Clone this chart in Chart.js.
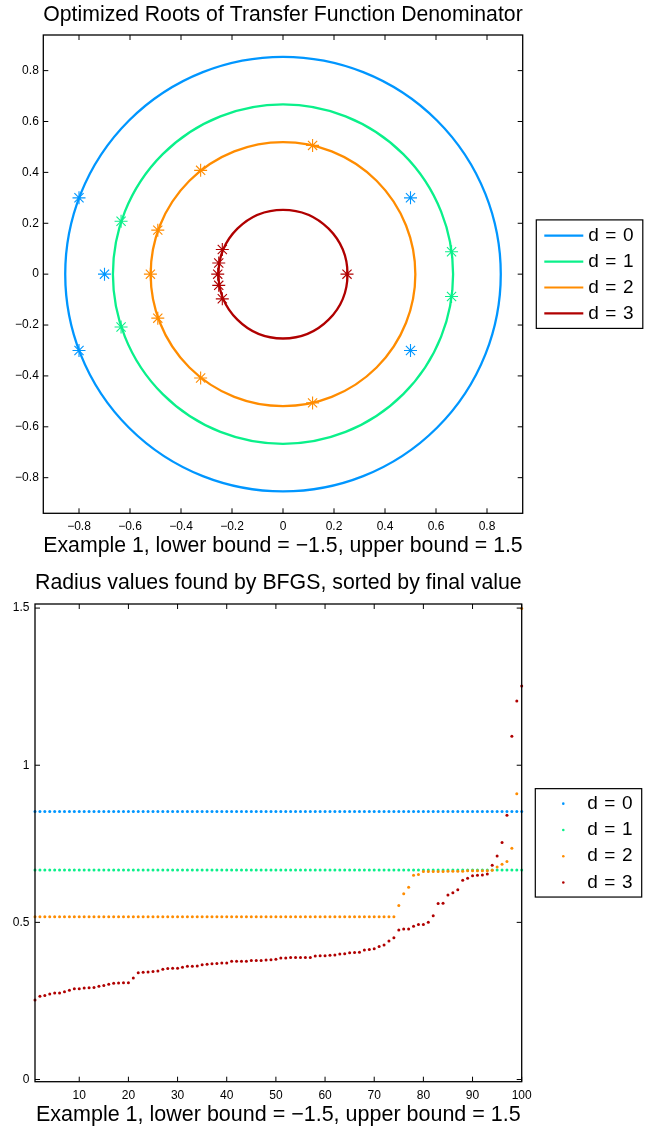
<!DOCTYPE html>
<html>
<head>
<meta charset="utf-8">
<script src="https://cdn.jsdelivr.net/npm/chart.js@4.4.1/dist/chart.umd.min.js"></script>
<style>
html,body{margin:0;padding:0;background:#fff;}
#wrap{position:relative;width:653px;height:1129px;overflow:hidden;background:#fff;}
#c1{position:absolute;left:0;top:0;}
#c2{position:absolute;left:0;top:565px;}
</style>
</head>
<body>
<div id="wrap">
<canvas id="c1" width="653" height="565"></canvas>
<canvas id="c2" width="653" height="564"></canvas>
</div>
<script>
// ---------------- data ----------------
const seriesLabels = ['d = 0', 'd = 1', 'd = 2', 'd = 3'];

const topTitle = 'Optimized Roots of Transfer Function Denominator';
const bottomTitle = 'Radius values found by BFGS, sorted by final value';
const xAxisTitle = 'Example 1, lower bound = \u22121.5, upper bound = 1.5';

// radius of each fitted circle (|z| = r)
const circleRadii = [0.854, 0.667, 0.519, 0.253];
const circleCenter = [0, 0];

// optimized roots (real / imaginary parts)
const rootsRe0 = [-0.80, -0.80, -0.70, 0.50, 0.50];
const rootsIm0 = [0.30, -0.30, 0.00, 0.30, -0.30];
const rootsRe1 = [-0.635, -0.635, 0.661, 0.661];
const rootsIm1 = [0.208, -0.208, 0.088, -0.088];
const rootsRe2 = [0.116, 0.116, -0.323, -0.323, -0.491, -0.491, -0.520];
const rootsIm2 = [0.506, -0.506, 0.408, -0.408, 0.173, -0.173, 0.000];
const rootsRe3 = [0.251, -0.238, -0.238, -0.252, -0.252, -0.256];
const rootsIm3 = [0.000, 0.097, -0.097, 0.044, -0.044, 0.000];

const topTicks = [-0.8, -0.6, -0.4, -0.2, 0, 0.2, 0.4, 0.6, 0.8];
const topTickLabels = ['\u22120.8', '\u22120.6', '\u22120.4', '\u22120.2', '0', '0.2', '0.4', '0.6', '0.8'];

// sorted radius values found by BFGS (100 runs)
const runs = [1,2,3,4,5,6,7,8,9,10,11,12,13,14,15,16,17,18,19,20,21,22,23,24,25,26,27,28,29,30,
  31,32,33,34,35,36,37,38,39,40,41,42,43,44,45,46,47,48,49,50,51,52,53,54,55,56,57,58,59,60,
  61,62,63,64,65,66,67,68,69,70,71,72,73,74,75,76,77,78,79,80,81,82,83,84,85,86,87,88,89,90,
  91,92,93,94,95,96,97,98,99,100];

const radiusD0 = [0.853,0.853,0.853,0.853,0.853,0.853,0.853,0.853,0.853,0.853,
  0.853,0.853,0.853,0.853,0.853,0.853,0.853,0.853,0.853,0.853,
  0.853,0.853,0.853,0.853,0.853,0.853,0.853,0.853,0.853,0.853,
  0.853,0.853,0.853,0.853,0.853,0.853,0.853,0.853,0.853,0.853,
  0.853,0.853,0.853,0.853,0.853,0.853,0.853,0.853,0.853,0.853,
  0.853,0.853,0.853,0.853,0.853,0.853,0.853,0.853,0.853,0.853,
  0.853,0.853,0.853,0.853,0.853,0.853,0.853,0.853,0.853,0.853,
  0.853,0.853,0.853,0.853,0.853,0.853,0.853,0.853,0.853,0.853,
  0.853,0.853,0.853,0.853,0.853,0.853,0.853,0.853,0.853,0.853,
  0.853,0.853,0.853,0.853,0.853,0.853,0.853,0.853,0.853,0.853];

const radiusD1 = [0.667,0.667,0.667,0.667,0.667,0.667,0.667,0.667,0.667,0.667,
  0.667,0.667,0.667,0.667,0.667,0.667,0.667,0.667,0.667,0.667,
  0.667,0.667,0.667,0.667,0.667,0.667,0.667,0.667,0.667,0.667,
  0.667,0.667,0.667,0.667,0.667,0.667,0.667,0.667,0.667,0.667,
  0.667,0.667,0.667,0.667,0.667,0.667,0.667,0.667,0.667,0.667,
  0.667,0.667,0.667,0.667,0.667,0.667,0.667,0.667,0.667,0.667,
  0.667,0.667,0.667,0.667,0.667,0.667,0.667,0.667,0.667,0.667,
  0.667,0.667,0.667,0.667,0.667,0.667,0.667,0.667,0.667,0.667,
  0.667,0.667,0.667,0.667,0.667,0.667,0.667,0.667,0.667,0.667,
  0.667,0.667,0.667,0.667,0.667,0.667,0.667,0.667,0.667,0.667];

const radiusD2 = [0.518,0.518,0.518,0.518,0.518,0.518,0.518,0.518,0.518,0.518,
  0.518,0.518,0.518,0.518,0.518,0.518,0.518,0.518,0.518,0.518,
  0.518,0.518,0.518,0.518,0.518,0.518,0.518,0.518,0.518,0.518,
  0.518,0.518,0.518,0.518,0.518,0.518,0.518,0.518,0.518,0.518,
  0.518,0.518,0.518,0.518,0.518,0.518,0.518,0.518,0.518,0.518,
  0.518,0.518,0.518,0.518,0.518,0.518,0.518,0.518,0.518,0.518,
  0.518,0.518,0.518,0.518,0.518,0.518,0.518,0.518,0.518,0.518,
  0.518,0.518,0.518,0.518,0.554,0.591,0.612,0.650,0.652,0.662,
  0.662,0.662,0.662,0.662,0.663,0.663,0.663,0.663,0.664,0.664,
  0.664,0.664,0.664,0.666,0.676,0.685,0.694,0.736,0.909,1.499];

const radiusD3 = [0.253,0.265,0.267,0.272,0.275,0.275,0.279,0.284,0.289,0.289,
  0.291,0.292,0.293,0.297,0.299,0.303,0.306,0.307,0.308,0.308,
  0.323,0.340,0.341,0.342,0.344,0.345,0.351,0.353,0.354,0.354,
  0.357,0.360,0.360,0.361,0.365,0.367,0.368,0.369,0.371,0.371,
  0.376,0.376,0.376,0.376,0.379,0.379,0.379,0.380,0.381,0.383,
  0.387,0.387,0.388,0.388,0.388,0.388,0.388,0.393,0.394,0.394,
  0.395,0.396,0.399,0.400,0.403,0.404,0.405,0.412,0.414,0.416,
  0.423,0.428,0.441,0.451,0.476,0.479,0.479,0.488,0.493,0.493,
  0.500,0.521,0.560,0.561,0.587,0.594,0.604,0.634,0.640,0.648,
  0.650,0.651,0.654,0.682,0.711,0.754,0.841,1.092,1.204,1.252];

const bottomXTicks = [10, 20, 30, 40, 50, 60, 70, 80, 90, 100];
const bottomXTickLabels = ['10', '20', '30', '40', '50', '60', '70', '80', '90', '100'];
const bottomYTicks = [0, 0.5, 1, 1.5];
const bottomYTickLabels = ['0', '0.5', '1', '1.5'];

// ---------------- styles ----------------
const colors = ['#0096ff', '#0af08a', '#ff8c00', '#b00000'];
const FONT = '"Liberation Sans", Arial, Helvetica, sans-serif';
Chart.defaults.font.family = FONT;
Chart.defaults.color = '#000';

function pts(re, im) { return re.map((r, i) => ({x: r, y: im[i]})); }
function seq(xs, ys) { return ys.map((v, i) => ({x: xs[i], y: v})); }
function fixTicks(vals) { return function (scale) { scale.ticks = vals.map(v => ({value: v})); }; }
function labelsOf(labels) { return function (value, index) { return labels[index]; }; }

// axes box with inward tick marks
const framePlugin = {
  id: 'frame',
  afterDatasetsDraw(chart) {
    const {ctx, chartArea: a, scales: {x, y}} = chart;
    const L = 5;
    ctx.save();
    ctx.strokeStyle = '#000';
    ctx.lineWidth = 1;
    ctx.beginPath();
    x.ticks.forEach(t => {
      const px = x.getPixelForValue(t.value);
      ctx.moveTo(px, a.bottom); ctx.lineTo(px, a.bottom - L);
      ctx.moveTo(px, a.top); ctx.lineTo(px, a.top + L);
    });
    y.ticks.forEach(t => {
      const py = y.getPixelForValue(t.value);
      ctx.moveTo(a.left, py); ctx.lineTo(a.left + L, py);
      ctx.moveTo(a.right, py); ctx.lineTo(a.right - L, py);
    });
    ctx.stroke();
    ctx.lineWidth = 1.3;
    ctx.strokeRect(a.left, a.top, a.right - a.left, a.bottom - a.top);
    ctx.restore();
  }
};

// boxed legend at the right of the axes
const boxLegend = {
  id: 'boxLegend',
  afterDraw(chart, args, o) {
    const {ctx, chartArea: a} = chart;
    const left = a.right + o.gap;
    const top = (a.top + a.bottom) / 2 - o.height / 2;
    ctx.save();
    ctx.fillStyle = '#fff';
    ctx.fillRect(left, top, o.width, o.height);
    ctx.strokeStyle = '#000';
    ctx.lineWidth = 1.2;
    ctx.strokeRect(left, top, o.width, o.height);
    ctx.font = '19px ' + FONT;
    ctx.textBaseline = 'middle';
    ctx.textAlign = 'left';
    try { ctx.letterSpacing = '0.6px'; } catch (e) {}
    seriesLabels.forEach((lab, i) => {
      const yy = top + o.first + i * o.step;
      if (o.kind === 'line') {
        ctx.strokeStyle = colors[i];
        ctx.lineWidth = 2.2;
        ctx.beginPath();
        ctx.moveTo(left + 8, yy);
        ctx.lineTo(left + 47, yy);
        ctx.stroke();
      } else {
        ctx.fillStyle = colors[i];
        ctx.beginPath();
        ctx.arc(left + 28, yy, 1.3, 0, Math.PI * 2);
        ctx.fill();
      }
      ctx.fillStyle = '#000';
      ctx.fillText(lab, left + 52, yy);
    });
    ctx.restore();
  }
};

// circles |z| = r drawn through the scales
const ringPlugin = {
  id: 'rings',
  beforeDatasetsDraw(chart) {
    const {ctx, scales: {x, y}} = chart;
    const cx = x.getPixelForValue(circleCenter[0]);
    const cy = y.getPixelForValue(circleCenter[1]);
    ctx.save();
    circleRadii.forEach((r, i) => {
      const rx = x.getPixelForValue(circleCenter[0] + r) - cx;
      const ry = cy - y.getPixelForValue(circleCenter[1] + r);
      ctx.beginPath();
      ctx.ellipse(cx, cy, rx, ry, 0, 0, Math.PI * 2);
      ctx.strokeStyle = colors[i];
      ctx.lineWidth = 2.3;
      ctx.stroke();
    });
    ctx.restore();
  }
};

const tickFont = {family: FONT, size: 12};

// ---------------- top chart ----------------
const rootSets = [pts(rootsRe0, rootsIm0), pts(rootsRe1, rootsIm1), pts(rootsRe2, rootsIm2), pts(rootsRe3, rootsIm3)];
new Chart(document.getElementById('c1'), {
  type: 'scatter',
  data: {
    datasets: rootSets.map((d, i) => ({
      label: seriesLabels[i],
      data: d,
      pointStyle: 'star',
      pointRadius: 6.5,
      pointBorderWidth: 1.1,
      borderColor: colors[i],
      backgroundColor: colors[i],
      clip: false,
      order: 3 - i
    }))
  },
  options: {
    responsive: false,
    animation: false,
    devicePixelRatio: 1,
    events: [],
    layout: {padding: {left: 0, right: 130.3, top: 0, bottom: 0}},
    plugins: {
      legend: {display: false},
      tooltip: {enabled: false},
      title: {
        display: true, text: topTitle, fullSize: false, color: '#000',
        font: {family: FONT, size: 21.5, weight: 'normal'},
        padding: {top: 2, bottom: 7.2}
      },
      boxLegend: {gap: 13.6, width: 106.5, height: 108.5, first: 15.8, step: 25.9, kind: 'line'}
    },
    scales: {
      x: {
        type: 'linear', min: -0.94, max: 0.94,
        grid: {display: false, drawTicks: false},
        border: {display: false},
        afterBuildTicks: fixTicks(topTicks),
        afterFit(s) { s.height = 51.7; },
        ticks: {font: tickFont, color: '#000', padding: 6.5, autoSkip: false, maxRotation: 0, callback: labelsOf(topTickLabels)},
        title: {display: true, text: xAxisTitle, color: '#000', font: {family: FONT, size: 21.5}, padding: {top: 0, bottom: 6.25}}
      },
      y: {
        type: 'linear', min: -0.94, max: 0.94,
        grid: {display: false, drawTicks: false},
        border: {display: false},
        afterBuildTicks: fixTicks(topTicks),
        afterFit(s) { s.width = 43.3; },
        ticks: {font: tickFont, color: '#000', padding: 4.5, autoSkip: false, callback: labelsOf(topTickLabels)}
      }
    }
  },
  plugins: [ringPlugin, framePlugin, boxLegend]
});

// ---------------- bottom chart ----------------
const radiusSets = [radiusD0, radiusD1, radiusD2, radiusD3];
new Chart(document.getElementById('c2'), {
  type: 'scatter',
  data: {
    datasets: radiusSets.map((vals, i) => ({
      label: seriesLabels[i],
      data: seq(runs, vals),
      pointStyle: 'circle',
      pointRadius: 1.5,
      pointBorderWidth: 0,
      borderColor: colors[i],
      backgroundColor: colors[i],
      clip: false,
      order: 3 - i
    }))
  },
  options: {
    responsive: false,
    animation: false,
    devicePixelRatio: 1,
    events: [],
    layout: {padding: {left: 0, right: 131.3, top: 0, bottom: 0}},
    plugins: {
      legend: {display: false},
      tooltip: {enabled: false},
      title: {
        display: true, text: bottomTitle, fullSize: false, color: '#000',
        font: {family: FONT, size: 21.5, weight: 'normal'},
        padding: {top: 5.35, bottom: 7.85}
      },
      boxLegend: {gap: 13.6, width: 106.4, height: 108.4, first: 15.0, step: 26.3, kind: 'dot'}
    },
    scales: {
      x: {
        type: 'linear', min: 1, max: 100,
        grid: {display: false, drawTicks: false},
        border: {display: false},
        afterBuildTicks: fixTicks(bottomXTicks),
        afterFit(s) { s.height = 47.3; },
        ticks: {font: tickFont, color: '#000', padding: 6.5, autoSkip: false, maxRotation: 0, callback: labelsOf(bottomXTickLabels)},
        title: {display: true, text: xAxisTitle, color: '#000', font: {family: FONT, size: 21.5}, padding: {top: 0, bottom: 1.25}}
      },
      y: {
        type: 'linear', min: -0.007, max: 1.513,
        grid: {display: false, drawTicks: false},
        border: {display: false},
        afterBuildTicks: fixTicks(bottomYTicks),
        afterFit(s) { s.width = 35; },
        ticks: {font: tickFont, color: '#000', padding: 5.5, autoSkip: false, callback: labelsOf(bottomYTickLabels)}
      }
    }
  },
  plugins: [framePlugin, boxLegend]
});
</script>
</body>
</html>
